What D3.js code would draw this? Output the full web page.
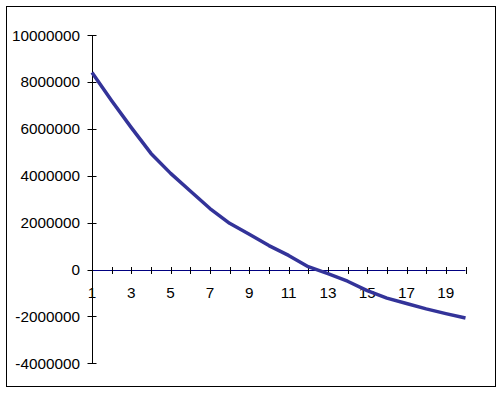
<!DOCTYPE html>
<html><head><meta charset="utf-8">
<script src="https://cdn.jsdelivr.net/npm/d3@7"></script>
<style>html,body{margin:0;padding:0;background:#fff;}svg{display:block;}</style>
</head><body>
<svg id="c" width="504" height="394"></svg>
<script>
const categories = d3.range(1, 21);
const values = [8400000, 7200000, 6050000, 4950000, 4100000, 3350000, 2600000, 1970000, 1500000, 1020000,
                600000, 120000, -180000, -500000, -900000, -1220000, -1450000, -1680000, -1880000, -2070000];
const yTicks = [10000000, 8000000, 6000000, 4000000, 2000000, 0, -2000000, -4000000];
const xLabels = [1, 3, 5, 7, 9, 11, 13, 15, 17, 19];

const svg = d3.select("#c");
svg.append("rect").attr("x", 6.5).attr("y", 6.5).attr("width", 489).attr("height", 380)
  .attr("fill", "#fff").attr("stroke", "#000").attr("stroke-width", 1);

const x = d3.scalePoint().domain(categories).range([92, 465.5]);
const y = d3.scaleLinear().domain([-4000000, 10000000]).range([363.3, 35]);
const font = "Liberation Sans, Arial, sans-serif";

// Y axis
const ax = Math.round(x(1)) + 0.5;
svg.append("line").attr("x1", ax).attr("x2", ax).attr("y1", y(10000000)).attr("y2", y(-4000000))
  .attr("stroke", "#000").attr("stroke-width", 1);
yTicks.forEach(t => {
  const yy = Math.round(y(t)) + 0.5;
  svg.append("line").attr("x1", ax - 5).attr("x2", ax + 4).attr("y1", yy).attr("y2", yy)
    .attr("stroke", "#000");
  svg.append("text").attr("x", 80).attr("y", y(t)).attr("dy", "0.36em")
    .attr("text-anchor", "end").attr("font-family", font).attr("font-size", 15.3)
    .attr("fill", "#000").text(String(t));
});

// X axis at zero
const zy = Math.round(y(0)) + 0.5;
svg.append("line").attr("x1", x(1)).attr("x2", x(20)).attr("y1", zy).attr("y2", zy)
  .attr("stroke", "#000080").attr("stroke-width", 1);
categories.forEach(c => {
  const xx = Math.round(x(c)) + 0.5;
  svg.append("line").attr("x1", xx).attr("x2", xx).attr("y1", zy - 3.5).attr("y2", zy + 3.5)
    .attr("stroke", "#000");
});
xLabels.forEach(c => {
  svg.append("text").attr("x", x(c)).attr("y", 298)
    .attr("text-anchor", "middle").attr("font-family", font).attr("font-size", 15.3)
    .attr("fill", "#000").text(String(c));
});

// Line
const line = d3.line().x((d, i) => x(categories[i])).y(d => y(d));
svg.append("path").datum(values).attr("d", line).attr("fill", "none")
  .attr("stroke", "#333399").attr("stroke-width", 3.5).attr("stroke-linejoin", "round");
</script>
</body></html>
